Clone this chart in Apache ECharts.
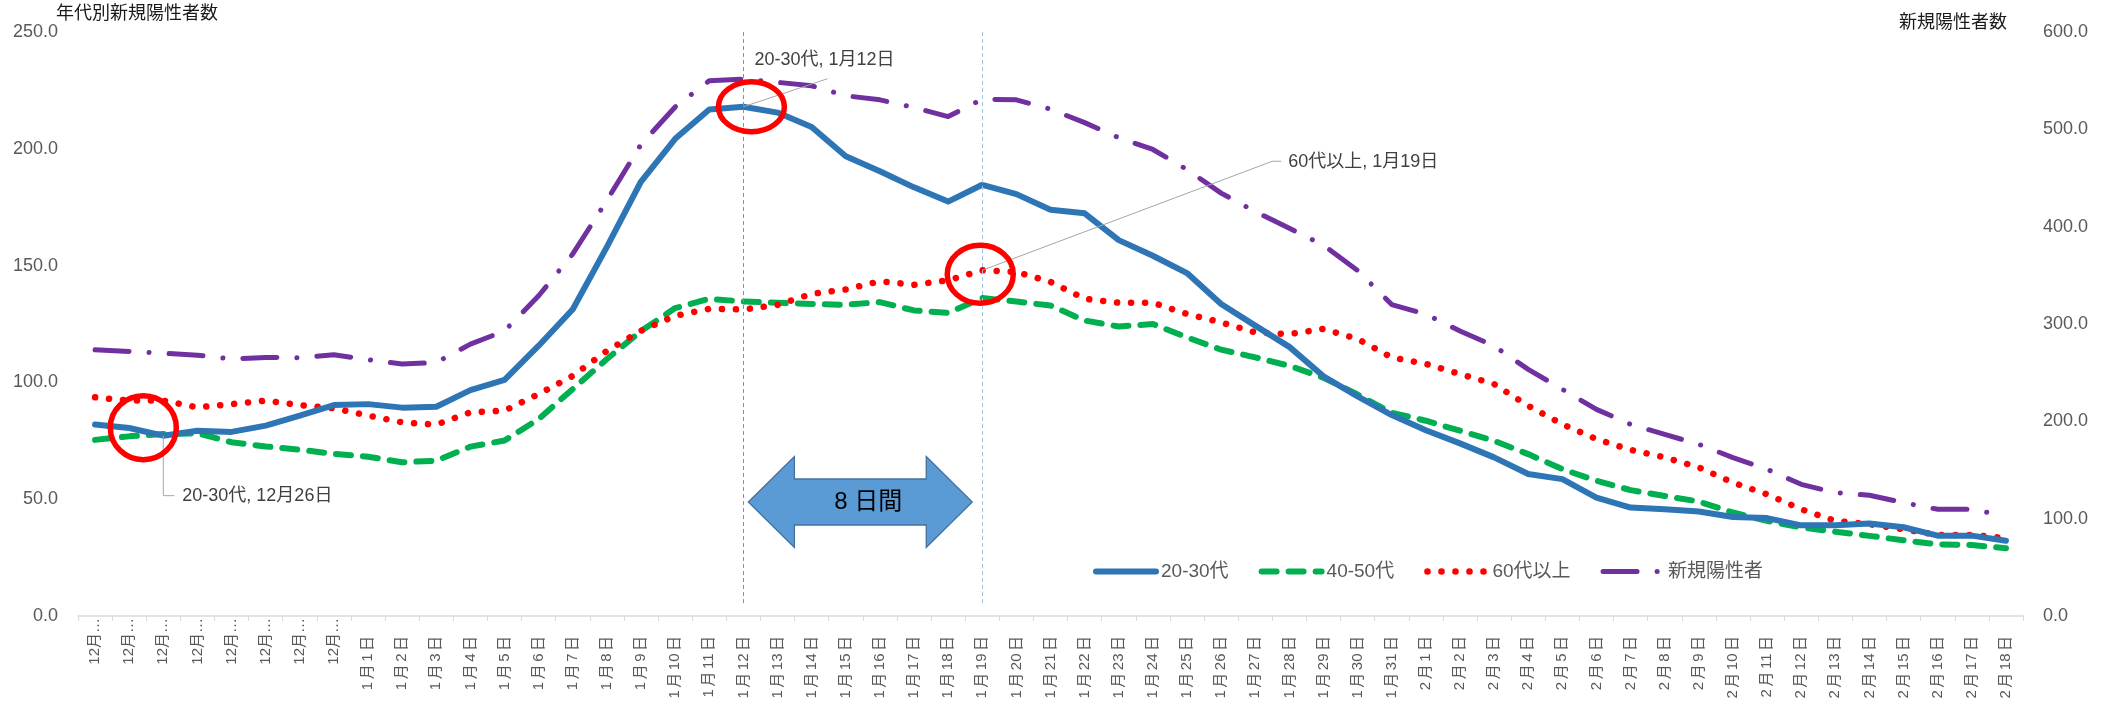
<!DOCTYPE html>
<html>
<head>
<meta charset="utf-8">
<script src="https://cdn.jsdelivr.net/npm/echarts@6/dist/echarts.min.js"></script>
<style>
html,body{margin:0;padding:0;background:#fff;}
#c{width:2110px;height:704px;}
</style>
</head>
<body>
<div id="c"></div>
<script>
// ---- data ----
const categories = [
  '12月24日','12月25日','12月26日','12月27日','12月28日','12月29日','12月30日','12月31日',
  '1月1日','1月2日','1月3日','1月4日','1月5日','1月6日','1月7日','1月8日','1月9日','1月10日',
  '1月11日','1月12日','1月13日','1月14日','1月15日','1月16日','1月17日','1月18日','1月19日','1月20日',
  '1月21日','1月22日','1月23日','1月24日','1月25日','1月26日','1月27日','1月28日','1月29日','1月30日','1月31日',
  '2月1日','2月2日','2月3日','2月4日','2月5日','2月6日','2月7日','2月8日','2月9日','2月10日',
  '2月11日','2月12日','2月13日','2月14日','2月15日','2月16日','2月17日','2月18日'
];
const seriesNames = ['20-30代', '40-50代', '60代以上', '新規陽性者'];
const age2030 = [82.0,80.5,77.2,79.3,78.8,81.5,85.8,90.3,90.7,89.2,89.6,96.7,101.1,115.7,131.3,158.0,186.0,204.3,216.8,218.0,
  215.5,209.3,196.8,190.4,183.5,177.4,184.6,180.6,173.9,172.4,160.9,154.2,146.8,133.6,124.3,115.2,102.6,94.0,86.0,
  79.5,73.9,67.9,60.8,58.6,50.7,46.4,45.7,44.7,42.4,41.9,38.8,38.8,39.6,38.0,34.4,34.4,32.2];
const age4050 = [75.4,76.9,77.9,78.2,74.4,72.6,71.2,69.4,68.2,65.8,66.5,72.5,75.1,84.3,97.2,110.0,122.0,131.8,135.8,134.6,
  134.1,133.6,133.2,134.4,130.8,129.8,136.1,134.6,132.9,126.5,123.9,125.0,119.3,114.0,110.7,107.1,102.0,94.8,87.0,
  83.6,79.3,75.0,69.3,62.9,57.9,53.9,51.4,49.0,44.3,40.7,37.9,36.1,34.3,32.4,30.7,30.4,29.0];
const age60 = [93.6,92.2,92.2,89.3,90.7,92.2,90.3,88.9,85.8,82.9,81.9,87.2,87.9,95.0,102.8,113.5,122.1,128.5,131.5,131.2,
  133.2,137.9,139.8,143.3,141.8,143.7,148.0,147.3,143.0,135.8,134.1,134.1,129.3,125.7,121.4,120.7,122.9,118.6,110.7,
  107.9,103.6,99.3,90.0,82.1,75.7,71.1,67.9,63.6,57.1,52.1,45.7,40.7,39.3,37.1,34.7,34.7,33.3];
const totalNew = [273.5,271.8,270.0,268.0,264.0,265.6,265.3,268.4,263.3,258.8,260.5,279.3,292.9,329.0,372.0,427.0,484.5,523.0,550.0,551.7,
  548.3,544.8,534.5,530.3,522.4,513.1,531.0,530.3,520.7,506.9,491.4,479.3,458.6,434.5,415.5,398.3,381.0,355.0,320.0,
  310.0,292.8,277.4,253.4,232.9,212.3,196.9,186.6,176.4,162.7,150.7,135.3,126.7,124.0,116.4,109.6,109.6,102.7];
const leftTicks = {min: 0, max: 250, interval: 50};
const rightTicks = {min: 0, max: 600, interval: 100};
const leftAxisName = '年代別新規陽性者数';
const rightAxisName = '新規陽性者数';
const markDates = ['1月12日', '1月19日'];
const periodLabel = '8 日間';
const notes = [
  {text: '20-30代, 12月26日', series: 0, date: '12月26日'},
  {text: '20-30代, 1月12日', series: 0, date: '1月12日'},
  {text: '60代以上, 1月19日', series: 2, date: '1月19日'}
];

// ---- styles ----
const F = "'Liberation Sans', 'Noto Sans CJK JP', sans-serif";
const GRAY = '#595959';
const lineStyles = [
  {color: '#2E75B6', width: 6, type: 'solid', cap: 'round', join: 'round'},
  {color: '#00B050', width: 6, type: [15, 12], cap: 'round', join: 'round'},
  {color: '#FF0000', width: 6.5, type: [0.1, 13.9], cap: 'round', join: 'round'},
  {color: '#7030A0', width: 5, type: [34, 20, 0.1, 20], cap: 'round', join: 'round'}
];
const yIndexes = [0, 0, 0, 1];
const zs = [4, 3, 3, 2];

const chart = echarts.init(document.getElementById('c'), null, {renderer: 'canvas'});

function xLabel(v) {
  if (v.indexOf('12月') === 0) return '{d|12月…}';
  const parts = v.match(/\d+|[^\d]/g);
  return parts.map((p, i) => (i === parts.length - 1 ? '{e|' + p + '}' : '{n|' + p + '}{s| }')).join('');
}

const seriesData = [age2030, age4050, age60, totalNew];
const series = seriesNames.map((name, i) => ({
  name: name, type: 'line', data: seriesData[i], yAxisIndex: yIndexes[i],
  symbol: 'none', z: zs[i],
  lineStyle: lineStyles[i],
  itemStyle: {color: lineStyles[i].color}
}));
series[0].markLine = {
  silent: true, symbol: ['none', 'none'], label: {show: false},
  data: [
    [{coord: [markDates[0], 250], lineStyle: {color: '#5B9BD5', width: 1, type: [4, 3]}}, {coord: [markDates[0], 4.7]}],
    [{coord: [markDates[1], 250], lineStyle: {color: '#9DC3E6', width: 1, type: [4, 3]}}, {coord: [markDates[1], 4.7]}]
  ]
};

const option = {
  animation: false,
  backgroundColor: '#ffffff',
  grid: {left: 78, right: 87, top: 32, bottom: 88, containLabel: false},
  legend: {
    data: seriesNames.map((n, i) => ({name: n, lineStyle: {width: lineStyles[i].width, type: lineStyles[i].type,
      cap: 'round', color: lineStyles[i].color}})),
    left: 1088, top: 557,
    itemWidth: 60, itemHeight: 14, itemGap: 30,
    itemStyle: {opacity: 0},
    textStyle: {fontFamily: F, fontSize: 19, color: GRAY}
  },
  xAxis: {
    type: 'category',
    data: categories,
    boundaryGap: true,
    axisLine: {lineStyle: {color: '#D9D9D9', width: 1.5}},
    axisTick: {show: true, length: 5, lineStyle: {color: '#D9D9D9', width: 1}},
    axisLabel: {
      interval: 0, rotate: 90, margin: 2,
      fontFamily: F, fontSize: 15, color: GRAY,
      formatter: xLabel,
      rich: {
        d: {fontFamily: F, fontSize: 15, color: GRAY},
        n: {fontFamily: F, fontSize: 15, color: GRAY},
        s: {fontFamily: F, fontSize: 9, color: GRAY},
        e: {fontFamily: F, fontSize: 15, color: GRAY, padding: [0, 18, 0, 0]}
      }
    },
    splitLine: {show: false}
  },
  yAxis: [
    {
      type: 'value', min: leftTicks.min, max: leftTicks.max, interval: leftTicks.interval,
      axisLine: {show: false}, axisTick: {show: false}, splitLine: {show: false},
      axisLabel: {margin: 20, fontFamily: F, fontSize: 18, color: GRAY,
        formatter: v => v.toFixed(1)}
    },
    {
      type: 'value', min: rightTicks.min, max: rightTicks.max, interval: rightTicks.interval,
      position: 'right',
      axisLine: {show: false}, axisTick: {show: false}, splitLine: {show: false},
      axisLabel: {margin: 20, fontFamily: F, fontSize: 18, color: GRAY,
        formatter: v => v.toFixed(1)}
    }
  ],
  series: series
};
chart.setOption(option);

// ---- annotations positioned from the axes ----
function pt(date, value, yIdx) {
  return chart.convertToPixel({xAxisIndex: 0, yAxisIndex: yIdx || 0}, [date, value]);
}
const graphics = [];
const LEADER = '#A6A6A6';
const NOTE_COLOR = '#404040';

// axis names
graphics.push({type: 'text', left: 56, top: 5, z: 10,
  style: {text: leftAxisName, fontFamily: F, fontSize: 18, fill: '#1a1a1a'}});
graphics.push({type: 'text', right: 2110 - 2007, top: 14, z: 10,
  style: {text: rightAxisName, fontFamily: F, fontSize: 18, fill: '#1a1a1a'}});

// note 1
(function () {
  const n = notes[0];
  const p = pt(n.date, seriesData[n.series][categories.indexOf(n.date)]);
  graphics.push({type: 'polyline', z: 20, silent: true,
    shape: {points: [[p[0], p[1]], [p[0], p[1] + 60], [p[0] + 11, p[1] + 60]]},
    style: {stroke: LEADER, lineWidth: 1, fill: null}});
  graphics.push({type: 'text', z: 20, x: p[0] + 19, y: p[1] + 60,
    style: {text: n.text, fontFamily: F, fontSize: 18, fill: NOTE_COLOR, verticalAlign: 'middle', align: 'left'}});
  graphics.push({type: 'ellipse', z: 25, shape: {cx: p[0] - 20, cy: p[1] - 8, rx: 33, ry: 32},
    style: {stroke: '#FF0000', lineWidth: 5.5, fill: null}});
})();
// note 2
(function () {
  const n = notes[1];
  const p = pt(n.date, seriesData[n.series][categories.indexOf(n.date)]);
  graphics.push({type: 'line', z: 20, silent: true,
    shape: {x1: p[0], y1: p[1], x2: p[0] + 84, y2: p[1] - 28},
    style: {stroke: LEADER, lineWidth: 1}});
  graphics.push({type: 'text', z: 20, x: p[0] + 11, y: p[1] - 47,
    style: {text: n.text, fontFamily: F, fontSize: 18, fill: NOTE_COLOR, verticalAlign: 'middle', align: 'left'}});
  graphics.push({type: 'ellipse', z: 25, shape: {cx: p[0] + 8, cy: p[1], rx: 33, ry: 25},
    style: {stroke: '#FF0000', lineWidth: 5.5, fill: null}});
})();
// note 3
(function () {
  const n = notes[2];
  const p = pt(n.date, seriesData[n.series][categories.indexOf(n.date)]);
  graphics.push({type: 'polyline', z: 20, silent: true,
    shape: {points: [[p[0], p[1]], [p[0] + 290, p[1] - 109], [p[0] + 299, p[1] - 109]]},
    style: {stroke: LEADER, lineWidth: 1, fill: null}});
  graphics.push({type: 'text', z: 20, x: p[0] + 306, y: p[1] - 108,
    style: {text: n.text, fontFamily: F, fontSize: 18, fill: NOTE_COLOR, verticalAlign: 'middle', align: 'left'}});
  graphics.push({type: 'ellipse', z: 25, shape: {cx: p[0] - 2, cy: p[1] + 4, rx: 33, ry: 29},
    style: {stroke: '#FF0000', lineWidth: 5.5, fill: null}});
})();

// double arrow between the two marked dates
(function () {
  const a = pt(markDates[0], 48.8);
  const b = pt(markDates[1], 48.8);
  const x1 = a[0] + 5, x2 = b[0] - 10, cy = a[1];
  const hw = 46, hh = 45.5, bh = 23;
  graphics.push({type: 'polygon', z: 15,
    shape: {points: [[x1, cy], [x1 + hw, cy - hh], [x1 + hw, cy - bh], [x2 - hw, cy - bh], [x2 - hw, cy - hh],
      [x2, cy], [x2 - hw, cy + hh], [x2 - hw, cy + bh], [x1 + hw, cy + bh], [x1 + hw, cy + hh]]},
    style: {fill: '#5B9BD5', stroke: '#41719C', lineWidth: 1.3}});
  graphics.push({type: 'text', z: 16, x: (x1 + x2) / 2 + 8, y: cy,
    style: {text: periodLabel, fontFamily: F, fontSize: 24,
      fill: '#000000', align: 'center', verticalAlign: 'middle'}});
})();

chart.setOption({graphic: {elements: graphics}});
</script>
</body>
</html>
